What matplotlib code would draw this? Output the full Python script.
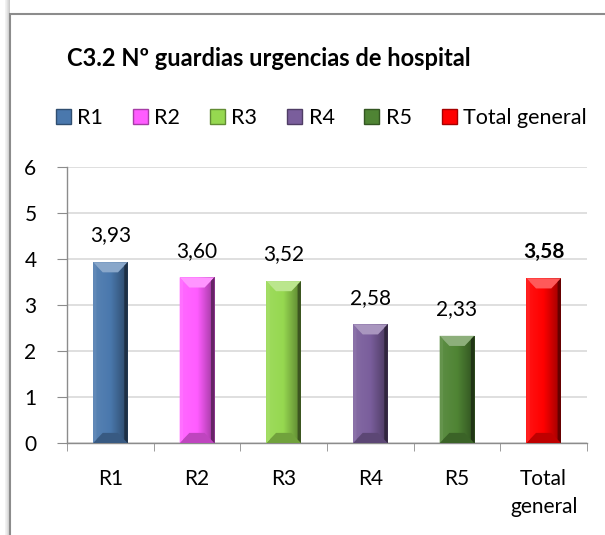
import matplotlib
matplotlib.use("Agg")
import matplotlib.pyplot as plt
import matplotlib.colors as mcolors
from matplotlib.patches import Polygon, Rectangle
import numpy as np

categories = ["R1", "R2", "R3", "R4", "R5", "Total\ngeneral"]
legend_names = ["R1", "R2", "R3", "R4", "R5", "Total general"]
values = [3.93, 3.60, 3.52, 2.58, 2.33, 3.58]
colors = ["#4a78ad", "#ff5cff", "#96d850", "#7a5e9c", "#4f8434", "#ff0000"]
title = "C3.2 Nº guardias urgencias de hospital"

plt.rcParams["font.family"] = ["Lato", "DejaVu Sans"]


def mix(c, other, t):
    a = np.array(mcolors.to_rgb(c))
    b = np.array(mcolors.to_rgb(other))
    return tuple(a * (1 - t) + b * t)


def bevel_bar(ax, patch, color):
    x0, w, h = patch.get_x(), patch.get_width(), patch.get_height()
    dx = w * 0.28
    dy = 0.22
    # front face: horizontal gradient light -> dark
    grad = np.linspace(0, 1, 64).reshape(1, -1)
    cmap = mcolors.LinearSegmentedColormap.from_list(
        "g", [mix(color, "white", 0.08), color, mix(color, "black", 0.4)])
    im = ax.imshow(grad, cmap=cmap, aspect="auto", extent=(x0, x0 + w, 0, h),
                   zorder=3, interpolation="bicubic")
    im.set_clip_path(patch)
    faces = [
        ([(x0, h), (x0 + w, h), (x0 + w - dx, h - dy), (x0 + dx, h - dy)], mix(color, "white", 0.35)),
        ([(x0, 0), (x0 + w, 0), (x0 + w - dx, dy), (x0 + dx, dy)], mix(color, "black", 0.25)),
        ([(x0, 0), (x0, h), (x0 + dx * 0.35, h - dy * 0.35), (x0 + dx * 0.35, dy * 0.35)], mix(color, "white", 0.12)),
        ([(x0 + w, 0), (x0 + w, h), (x0 + w - dx * 0.35, h - dy * 0.35), (x0 + w - dx * 0.35, dy * 0.35)], mix(color, "black", 0.6)),
    ]
    for pts, fc in faces:
        ax.add_patch(Polygon(pts, closed=True, facecolor=fc, edgecolor="none", zorder=4))


fig = plt.figure(figsize=(6.05, 5.35), dpi=100)
fig.patch.set_facecolor("white")

# chart frame and shadow (cropped on the right/bottom)
for i, a in enumerate([0.05, 0.08, 0.12, 0.16, 0.2]):
    fig.patches.append(Rectangle(((5 + i) / 605, -0.1), 1 / 605, 1.2,
                                 transform=fig.transFigure, facecolor="black",
                                 alpha=a, edgecolor="none", zorder=-3))
fig.patches.append(Rectangle((10 / 605, -0.1), 1.2, 1 - 14 / 535 + 0.1,
                             transform=fig.transFigure, facecolor="white",
                             edgecolor="#8c8c8c", linewidth=1.5, zorder=-2))

ax = fig.add_axes([67 / 605, 1 - 443 / 535, 520 / 605, 276 / 535])
ax.set_facecolor("none")
x = np.arange(len(categories))
bars = ax.bar(x, values, width=0.4, color=colors, zorder=2)
for b, c in zip(bars, colors):
    bevel_bar(ax, b, c)

for i, (b, v) in enumerate(zip(bars, values)):
    ax.annotate(f"{v:.2f}".replace(".", ","), (b.get_x() + b.get_width() / 2, v),
                xytext=(0, 12), textcoords="offset points", ha="center", va="bottom",
                fontsize=15, fontweight="bold" if i == len(values) - 1 else "normal")

ax.set_xlim(-0.5, len(categories) - 0.5)
ax.set_ylim(0, 6)
ax.set_yticks(range(0, 7))
ax.yaxis.grid(True, color="#d9d9d9", linewidth=1.2, zorder=0)
ax.set_axisbelow(True)
ax.set_xticks(x)
ax.set_xticklabels(categories, fontsize=15, linespacing=1.45)
ax.set_xticks(np.arange(-0.5, len(categories)), minor=True)
ax.tick_params(axis="x", which="major", length=0, pad=19)
ax.tick_params(axis="x", which="minor", length=6, color="#8c8c8c", direction="out")
ax.tick_params(axis="y", length=7, color="#8c8c8c", labelsize=15, pad=15)
for s in ["top", "right"]:
    ax.spines[s].set_visible(False)
for s in ["left", "bottom"]:
    ax.spines[s].set_color("#8c8c8c")
    ax.spines[s].set_linewidth(1)

fig.text(0.445, 1 - 58 / 535, title, ha="center", va="center", fontsize=17, fontweight="bold")

handles = []
for c in colors:
    handles.append(Rectangle((0, 0), 1, 1, facecolor=c, edgecolor=mix(c, "black", 0.35), linewidth=1))
fig.legend(handles, legend_names, loc="center", bbox_to_anchor=(0.531, 1 - 118 / 535),
           ncol=6, frameon=False, fontsize=15.5, handlelength=0.7, handleheight=0.7,
           handletextpad=0.3, columnspacing=1.38)

fig.savefig("out.png", dpi=100)
